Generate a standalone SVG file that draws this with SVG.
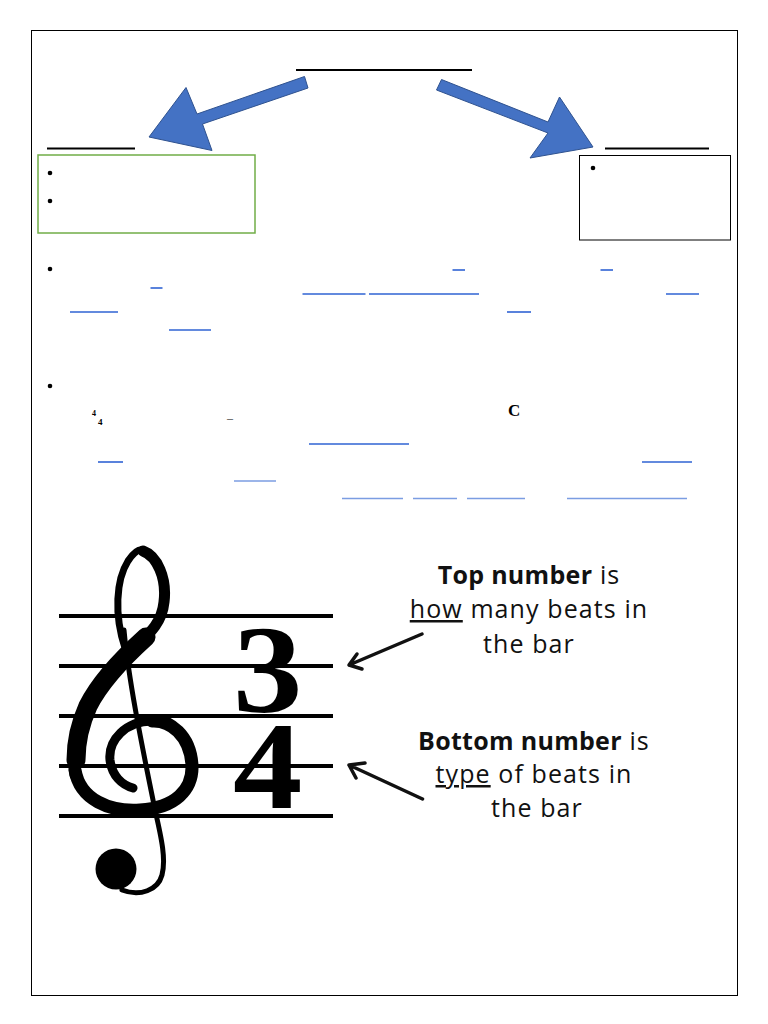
<svg xmlns="http://www.w3.org/2000/svg" width="768" height="1024" viewBox="0 0 768 1024">
<style>
.blk{stroke:#000;stroke-width:2;fill:none}
.ul{stroke:#2f63d3;stroke-width:1.6}
.ul2{stroke:#7b9de2;stroke-width:1.6}
.bul{fill:#000}
.lbl{font-family:"Open Sans","Noto Sans",sans-serif;font-size:25px;fill:#111;text-anchor:middle;letter-spacing:1.1px}
.b{font-weight:bold;letter-spacing:0.3px}
.barrow{fill:#4472c4;stroke:#2f528f;stroke-width:1}
.karrow{fill:none;stroke:#111;stroke-width:3.5;stroke-linecap:round;stroke-linejoin:round}
.staff{stroke:#000;stroke-width:4}
.clef{fill:none;stroke:#000;stroke-linecap:round;stroke-linejoin:round}
</style>
<rect width="768" height="1024" fill="#fff"/>
<rect x="31.5" y="30.5" width="706" height="965" fill="none" stroke="#000" stroke-width="1"/>

<g id="title-line"><line x1="296" y1="70" x2="472" y2="70" class="blk"/></g>

<g id="left-node">
<line x1="47" y1="148.5" x2="135" y2="148.5" class="blk"/>
<rect x="38" y="155" width="217" height="78" fill="none" stroke="#70ad47" stroke-width="1.5"/>
<circle cx="50" cy="173" r="2.3" class="bul"/>
<circle cx="50" cy="201" r="2.3" class="bul"/>
</g>

<g id="right-node">
<line x1="605" y1="148.5" x2="709" y2="148.5" class="blk"/>
<rect x="579.5" y="155.5" width="151" height="84.5" fill="none" stroke="#000" stroke-width="1"/>
<circle cx="593" cy="168" r="2.3" class="bul"/>
</g>

<g id="connectors">
<polygon class="barrow" points="304.5,76.5 308,88 202.5,124 212,150.5 149,137 186,87.5 197,114"/>
<polygon class="barrow" points="441.5,79.5 436.5,90 548,133 530,158 593,147 559.5,97 548,122"/>
<path class="karrow" d="M422,634 L349,665 M357,654 L349,665 L362,669"/>
<path class="karrow" d="M422.5,799 L349,765 M365,763 L349,765 L356,778"/>
</g>

<g id="paragraph-1">
<circle cx="50" cy="269" r="2.3" class="bul"/>
<line x1="452.5" y1="270" x2="465" y2="270" class="ul"/>
<line x1="600.5" y1="270" x2="613" y2="270" class="ul"/>
<line x1="150.5" y1="288" x2="162.5" y2="288" class="ul"/>
<line x1="302.5" y1="294" x2="365.5" y2="294" class="ul"/>
<line x1="369" y1="294" x2="479" y2="294" class="ul"/>
<line x1="666" y1="294" x2="699" y2="294" class="ul"/>
<line x1="70" y1="312" x2="118" y2="312" class="ul"/>
<line x1="507" y1="312" x2="531" y2="312" class="ul"/>
<line x1="169" y1="330" x2="211" y2="330" class="ul"/>
</g>

<g id="paragraph-2">
<circle cx="50" cy="386" r="2.3" class="bul"/>
<text x="92" y="416" font-family="Liberation Serif,serif" font-size="8" font-weight="bold">4</text>
<text x="98" y="425" font-family="Liberation Serif,serif" font-size="9" font-weight="bold">4</text>
<text x="227" y="422" font-family="Liberation Serif,serif" font-size="12" fill="#333">–</text>
<text x="508" y="416" font-family="Liberation Serif,serif" font-size="17" font-weight="bold">C</text>
<line x1="309" y1="444" x2="409" y2="444" class="ul"/>
<line x1="98" y1="462" x2="123" y2="462" class="ul"/>
<line x1="642" y1="462" x2="692" y2="462" class="ul"/>
<line x1="234" y1="481" x2="276" y2="481" class="ul2"/>
<line x1="342" y1="498.5" x2="403" y2="498.5" class="ul2"/>
<line x1="413" y1="498.5" x2="457" y2="498.5" class="ul2"/>
<line x1="467" y1="498.5" x2="525" y2="498.5" class="ul2"/>
<line x1="567" y1="498.5" x2="687" y2="498.5" class="ul2"/>
</g>

<g id="staff">
<line x1="59" y1="616" x2="333" y2="616" class="staff"/>
<line x1="59" y1="666" x2="333" y2="666" class="staff"/>
<line x1="59" y1="716" x2="333" y2="716" class="staff"/>
<line x1="59" y1="766" x2="333" y2="766" class="staff"/>
<line x1="59" y1="816" x2="333" y2="816" class="staff"/>
</g>

<g id="treble-clef">
<path class="clef" stroke-width="5" d="M124,630 C129,685 145,760 155,810 C162,840 166,860 162,875 C158,890 140,897 122,890"/>
<path class="clef" stroke-width="7" d="M125,648 C114,615 116,580 128,561 C134,552 139,549 143,550"/>
<path class="clef" stroke-width="11" d="M143,551 C157,556 167,578 164,602 C162,622 150,633 140,642 C120,660 95,685 84,710 C74,732 72,755 75,775"/>
<path class="clef" stroke-width="19" d="M146,637 C125,656 100,682 88,706 C79,726 76,745 76,760"/>
<path class="clef" stroke-width="13" d="M75,770 C80,800 110,812 140,810 C175,808 193,790 192,765 C190,735 170,720 152,721"/>
<path class="clef" stroke-width="9" d="M152,721 C126,721 108,740 110,760 C112,776 122,785 133,788"/>
<circle cx="116" cy="869" r="20.5" fill="#000"/>
</g>

<g id="time-signature" font-family="Liberation Serif,serif" font-weight="bold" font-size="124" fill="#000" transform="translate(233,0) scale(1.12,1) translate(-233,0)">
<text x="233" y="712">3<tspan x="233" y="808">4</tspan></text>
</g>

<g id="label-top">
<text class="lbl" x="529" y="584"><tspan class="b">Top number</tspan> is</text>
<text class="lbl" x="529" y="618"><tspan text-decoration="underline">how</tspan> many beats in</text>
<text class="lbl" x="529" y="653">the bar</text>
</g>

<g id="label-bottom">
<text class="lbl" x="534" y="750"><tspan class="b">Bottom number</tspan> is</text>
<text class="lbl" x="534" y="783"><tspan text-decoration="underline">type</tspan> of beats in</text>
<text class="lbl" x="537" y="817">the bar</text>
</g>
</svg>
